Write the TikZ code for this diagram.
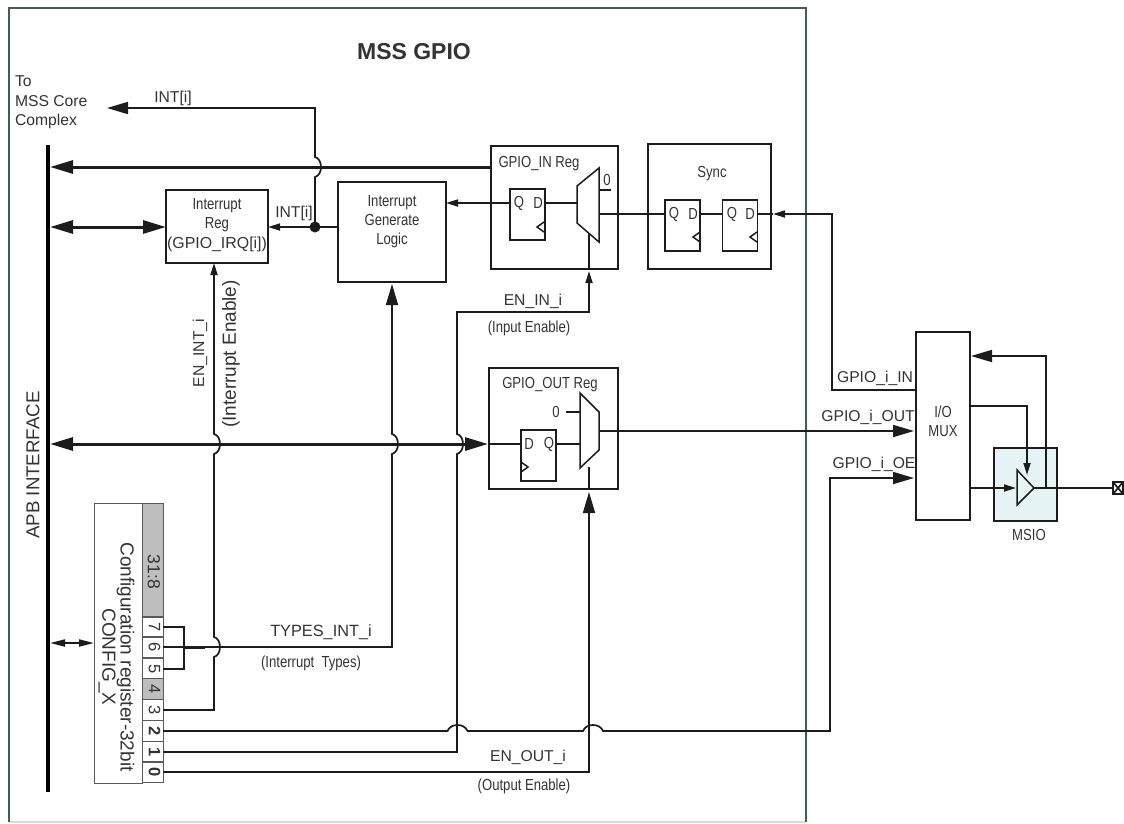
\documentclass[tikz,border=0pt]{standalone}
\usepackage{fontspec}
\setmainfont{Liberation Sans}
\newfontfamily\narrowfont[FakeStretch=0.82]{Liberation Sans}
\usetikzlibrary{arrows.meta, calc}

\definecolor{linedark}{HTML}{1C1C1C}
\definecolor{textdark}{HTML}{333333}
\definecolor{framegreen}{HTML}{3F6146}
\definecolor{framepale}{HTML}{D8DCD8}
\definecolor{bitgray}{HTML}{BEBEBE}
\definecolor{msiofill}{HTML}{E6F4F6}

% line hops over a crossing wire
\newcommand{\hopvert}[1]{-- ([yshift=-10pt]#1) .. controls +(8pt,2pt) and +(8pt,-2pt) .. ([yshift=10pt]#1)}
\newcommand{\hophorz}[1]{-- ([xshift=-10pt]#1) .. controls +(3pt,8pt) and +(-3pt,8pt) .. ([xshift=10pt]#1)}

\begin{document}
\begin{tikzpicture}[
    x=1pt, y=-1pt,
    every node/.style={inner sep=0pt, outer sep=0pt, text=textdark},
    label/.style={font=\fontsize{15.7}{19}\selectfont, align=left},
    narrow/.style={font=\narrowfont\fontsize{16}{19}\selectfont, align=center},
    box/.style={draw=linedark, line width=1.5pt},
    flop/.style={box, minimum width=35pt, minimum height=51pt},
    bit/.style={draw=black!65, line width=0.9pt, rotate=-90, minimum width=21pt, minimum height=21pt, text height=10pt, text depth=2.5pt, font=\fontsize{16.5}{19}\selectfont},
    wire/.style={draw=linedark, line width=1.7pt},
    smallarrow/.style={wire, -{Triangle[length=12pt, width=7pt]}},
    bigarrow/.style={wire, -{Triangle[length=21pt, width=12pt]}},
    bus/.style={draw=linedark, line width=3pt, -{Triangle[length=23pt, width=13pt]}},
    dualbus/.style={draw=linedark, line width=3pt, {Triangle[length=23pt, width=13pt]}-{Triangle[length=23pt, width=13pt]}}
]
\useasboundingbox (0,0) rectangle (1124,823);

\node[minimum width=797pt, minimum height=814pt] (Frame) at (407.5,415) {};
\draw[draw=framepale, line width=1.3pt] (Frame.south west) -- (Frame.south east);
\draw[draw=framegreen, line width=1.3pt] (Frame.south west) |- (Frame.north east) -- (Frame.south east);
\node[font=\bfseries\fontsize{23}{26}\selectfont] (Title) at (414,52) {MSS GPIO};
\node[label, anchor=west, font=\fontsize{15.7}{19.5}\selectfont] (ToCoreText) at (15,102.5) {To\\MSS Core\\Complex};

\node[fill=black, minimum width=4pt, minimum height=647pt] (APB) at (48,468.5) {};
\node[rotate=90, font=\fontsize{18.7}{22}\selectfont] (APBText) at (33,465) {APB INTERFACE};

% registers and logic
\node[box, minimum width=102pt, minimum height=73pt] (IRQ) at (217,226.5) {};
\node[narrow] (IRQText) at (217,215.5) {Interrupt\\Reg};
\node[font=\fontsize{15.9}{19}\selectfont] (IRQName) at (217,244) {(GPIO\_IRQ[i])};
\node[box, minimum width=108pt, minimum height=100pt] (IGL) at (392,232) {};
\node[narrow] (IGLText) at (392,222) {Interrupt\\Generate\\Logic};

\node[box, minimum width=127pt, minimum height=123pt] (INreg) at (554.5,207.5) {};
\node[narrow] (INregText) at (539,164) {GPIO\_IN Reg};
\node[flop] (FFin) at (527.5,214.5) {};
\node[narrow] (FFinQ) at (519,203) {Q};
\node[narrow] (FFinD) at (538,203) {D};

\node[box, minimum width=123pt, minimum height=125pt] (Sync) at (709.5,206.5) {};
\node[narrow] (SyncText) at (712,174) {Sync};
\node[flop] (FFa) at (682.5,225.5) {};
\node[narrow] (FFaQ) at (674,214) {Q};
\node[narrow] (FFaD) at (693,214) {D};
\node[flop] (FFb) at (740,225.5) {};
\node[narrow] (FFbQ) at (732,214) {Q};
\node[narrow] (FFbD) at (750,214) {D};

\node[box, minimum width=129pt, minimum height=121pt] (OUTreg) at (553.5,428.5) {};
\node[narrow] (OUTregText) at (550,385) {GPIO\_OUT Reg};
\node[flop] (FFout) at (538.5,455.5) {};
\node[narrow] (FFoutD) at (529,444) {D};
\node[narrow] (FFoutQ) at (549,444) {Q};

\node[box, minimum width=54pt, minimum height=188pt] (MUX) at (943,426) {};
\node[narrow] (MUXText) at (943,421.5) {I/O\\MUX};
\node[box, fill=msiofill, minimum width=63pt, minimum height=73pt] (MSIO) at (1025.5,484.5) {};
\node[narrow] (MSIOText) at (1029,535) {MSIO};

% configuration register
\node[draw=black!65, line width=0.9pt, rotate=-90, minimum width=280pt, minimum height=48pt] (CFG) at (118,643) {};
\node[rotate=-90, align=center, font=\fontsize{19}{17}\selectfont] (CFGText) at (116.5,657) {Configuration register-32bit\\CONFIG\_X};
\node[bit, fill=bitgray, minimum width=114pt] (Bhigh) at (152.5,560) {};
\node[rotate=-90, font=\fontsize{17.5}{19}\selectfont] (BhighText) at (154,572) {31:8};
\node[bit] (B7) at (152.5,627) {7};
\node[bit] (B6) at (152.5,647) {6};
\node[bit] (B5) at (152.5,669) {5};
\node[bit, fill=bitgray] (B4) at (152.5,689) {4};
\node[bit] (B3) at (152.5,710) {3};
\node[bit, font=\bfseries\fontsize{16.5}{19}\selectfont] (B2) at (152.5,731) {2};
\node[bit, font=\bfseries\fontsize{16.5}{19}\selectfont] (B1) at (152.5,752) {1};
\node[bit, font=\bfseries\fontsize{16.5}{19}\selectfont] (B0) at (152.5,772) {0};

% wire labels
\node[label] (INTa) at (173,98) {INT[i]};
\node[label] (INTb) at (294,213) {INT[i]};
\node[label, rotate=90] (ENINT) at (200,353) {EN\_INT\_i};
\node[label, rotate=90, font=\fontsize{19}{19}\selectfont] (ENINTnote) at (231,354) {(Interrupt Enable)};
\node[label, font=\fontsize{16.3}{19}\selectfont] (TYPES) at (321,632) {TYPES\_INT\_i};
\node[narrow] (TYPESnote) at (311,663) {(Interrupt~~Types)};
\node[label] (ENIN) at (533,301) {EN\_IN\_i};
\node[narrow] (ENINnote) at (529,328) {(Input Enable)};
\node[label] (ENOUT) at (528,757) {EN\_OUT\_i};
\node[narrow] (ENOUTnote) at (524,786) {(Output Enable)};
\node[label] (PinIN) at (875,378) {GPIO\_i\_IN};
\node[label] (PinOUT) at (868,417) {GPIO\_i\_OUT};
\node[label] (PinOE) at (874,464) {GPIO\_i\_OE};

% routing points
\coordinate (ToCore) at (107,108);
\coordinate (Dot) at (315,227);
\coordinate (INbus) at (491,167);
\coordinate (OUTbus) at (488,444);
\coordinate (HopA) at (315,167);
\coordinate (HopC) at (392,444);
\coordinate (HopD) at (214,647);
\coordinate (HopE) at (214,444);
\coordinate (HopF) at (457,444);
\coordinate (HopG) at (457.5,731);
\coordinate (HopH) at (593,731);
\coordinate (TypesJoin) at (184,647);
\coordinate (ENINturn) at (457,312);
\coordinate (ENINtip) at (589,271);
\coordinate (ENINsel) at (589,233);
\coordinate (ENOUTtip) at (589,492);
\coordinate (ENOUTsel) at (589,467);
\coordinate (MuxInL) at (577,203);
\coordinate (MuxInR) at (599,214);
\coordinate (MuxZeroIn) at (599,190);
\coordinate (MuxZeroInEnd) at (611,190);
\coordinate (MuxOutL) at (580,444);
\coordinate (MuxOutR) at (599,431);
\coordinate (MuxZeroOut) at (580,412);
\coordinate (MuxZeroOutEnd) at (566,412);
\coordinate (PinINright) at (916,390);
\coordinate (PinINleft) at (832,390);
\coordinate (SyncIn) at (773,214);
\coordinate (PinOUTtip) at (914,431);
\coordinate (PinOEtip) at (914,478);
\coordinate (PinOEleft) at (830,478);
\coordinate (BufIn) at (1016,488);
\coordinate (BufTop) at (1027,475);
\coordinate (BufOut) at (1034,488);
\coordinate (MuxDrive) at (970,488);
\coordinate (MuxEnable) at (970,406);
\coordinate (FbTap) at (1046,488);
\coordinate (FbIn) at (971,356);

% muxes, buffer, clock marks
\draw[box, line join=miter] (577,186) -- (599,168) -- (599,242) -- (577,223) -- cycle;
\draw[box, line join=miter] (580,393) -- (599,412) -- (599,450) -- (580,468) -- cycle;
\draw[box, line join=miter] (1017,470) -- (1034,488) -- (1017,505) -- cycle;
\draw[box] (544,222) -- (537,227) -- (544,232);
\draw[box] (700,232) -- (693,237) -- (700,242);
\draw[box] (757,232) -- (750,237) -- (757,242);
\draw[box] (521,462) -- (528,467) -- (521,472);
\node[narrow] (ZeroIn) at (607,180) {0};
\node[narrow] (ZeroOut) at (556,412) {0};

% busses
\draw[bus] (INbus) -- (APB.east |- INbus);
\draw[dualbus] (APB.east |- OUTbus) -- (OUTbus);
\draw[dualbus] (APB.east |- Dot) -- (IRQ.west |- Dot);
\draw[draw=linedark, line width=2pt, {Triangle[length=15pt, width=7pt]}-{Triangle[length=15pt, width=7pt]}] (APB.east |- CFG.south) -- (CFG.south);

% interrupt wires
\node[circle, fill=linedark, minimum size=11pt] (DotNode) at (Dot) {};
\draw[wire] (Dot -| IGL.west) -- (Dot);
\draw[smallarrow] (Dot) -- (Dot -| IRQ.east);
\draw[bigarrow] (Dot) \hopvert{HopA} |- (ToCore);
\draw[smallarrow] (FFin.west |- FFinQ) -- (IGL.east |- FFinQ);
\draw[smallarrow] (B3.north) -- (B3.north -| HopE) \hopvert{HopD} \hopvert{HopE} -- (HopE |- IRQ.south);
\draw[wire] (B7.north) -| (TypesJoin) |- (B5.north);
\draw[bigarrow, shorten >=2pt] (B6.north) -- (B6.north -| HopC) \hopvert{HopC} -- (IGL.south);
\draw[draw=linedark, line width=3pt] (TypesJoin) -- ++(21,0);

% data path
\draw[wire] (FFin.east |- FFinQ) -- (MuxInL);
\draw[wire] (MuxZeroIn) -- (MuxZeroInEnd);
\draw[wire] (MuxInR) -- (FFa.west |- MuxInR);
\draw[wire] (FFa.east |- MuxInR) -- (FFb.west |- MuxInR);
\draw[wire] (FFb.east |- MuxInR) -- (SyncIn);
\draw[smallarrow] (PinINright) -- (PinINleft) |- (SyncIn);
\draw[wire] (INreg.south -| ENINtip) -- (ENINsel);
\draw[smallarrow] (B1.north) -- (B1.north -| HopF) \hopvert{HopF} -- (ENINturn) -| (ENINtip);
\draw[wire] (OUTreg.west |- OUTbus) -- (FFout.west |- OUTbus);
\draw[wire] (FFout.east |- OUTbus) -- (MuxOutL);
\draw[wire] (MuxZeroOut) -- (MuxZeroOutEnd);
\draw[bigarrow] (MuxOutR) -- (PinOUTtip);
\draw[wire] (OUTreg.south -| ENOUTtip) -- (ENOUTsel);
\draw[bigarrow] (B0.north) -| (ENOUTtip);
\draw[bigarrow] (B2.north) \hophorz{HopG} \hophorz{HopH} -| (PinOEleft) -- (PinOEtip);

% pad side
\draw[smallarrow] (MuxDrive) -- (BufIn);
\draw[smallarrow] (MuxEnable) -| (BufTop);
\draw[bigarrow] (FbTap) |- (FbIn);
\node[box, fill=white, minimum width=10pt, minimum height=12pt] (Pad) at (1118,488) {};
\draw[wire] (Pad.north west) -- (Pad.south east);
\draw[wire] (Pad.north east) -- (Pad.south west);
\draw[wire] (BufOut) -- (Pad.west);

\end{tikzpicture}
\end{document}
